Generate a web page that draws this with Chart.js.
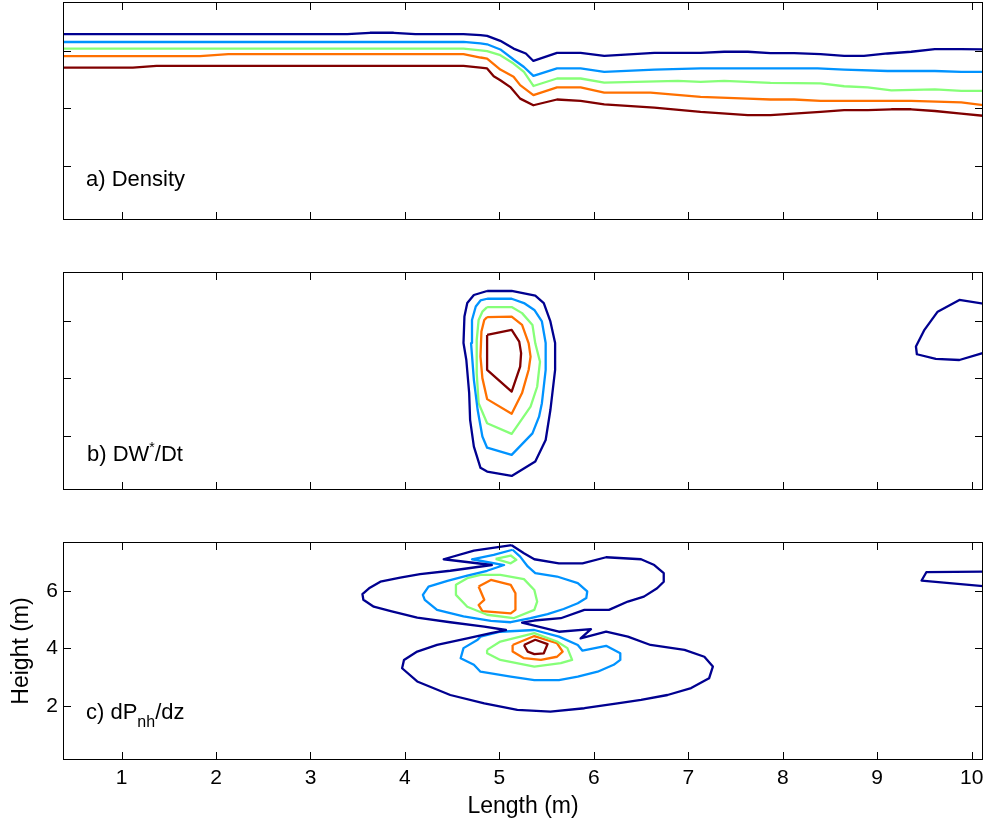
<!DOCTYPE html>
<html>
<head>
<meta charset="utf-8">
<script src="https://cdn.jsdelivr.net/npm/chart.js@4.4.1/dist/chart.umd.min.js"></script>
<style>
  body { margin: 0; background: #fff; }
  #wrap { position: relative; width: 985px; height: 824px; font-family: 'Liberation Sans', Arial, sans-serif; }
  canvas { position: absolute; left: 0; }
  .lab { position: absolute; font-size: 22px; line-height: 22px; white-space: nowrap; color: #000; }
  .sup { font-size: 14px; position: relative; top: -9px; }
  .sub { font-size: 16px; position: relative; top: 8px; }
</style>
</head>
<body>
<div id="wrap">
  <canvas id="chartA" width="985" height="222" style="top:0"></canvas>
  <canvas id="chartB" width="985" height="222" style="top:270px"></canvas>
  <canvas id="chartC" width="985" height="284" style="top:540px"></canvas>
  <div class="lab" style="left:86px;top:168px">a) Density</div>
  <div class="lab" style="left:87px;top:443px">b) DW<span class="sup">*</span>/Dt</div>
  <div class="lab" style="left:86px;top:701px">c) dP<span class="sub">nh</span>/dz</div>
</div>
<script>
// Axis ranges and ticks (metres)
const xRange = [0.38, 10.12];
const yRange = [0.12, 7.7];
const xTicks = [1, 2, 3, 4, 5, 6, 7, 8, 9, 10];
const yTicks = [2, 4, 6];

// Contour level colours (low -> high)
const levelColors = ['#000090', '#0093ff', '#86ff78', '#ff7000', '#800000'];

// a) Density isolines, [length, height]
const densityBlue = [[0.3,6.58],[3.39,6.58],[3.63,6.63],[3.88,6.63],[4.11,6.58],[4.62,6.58],[4.80,6.55],[4.87,6.52],[5.01,6.35],[5.15,6.08],[5.28,5.91],[5.36,5.65],[5.61,5.93],[5.86,5.93],[6.11,5.83],[6.64,5.93],[7.13,5.93],[7.38,5.97],[7.63,5.97],[7.87,5.92],[8.12,5.92],[8.40,5.89],[8.65,5.83],[8.86,5.83],[9.11,5.91],[9.36,5.97],[9.61,6.06],[9.89,6.06],[10.2,6.05]];
const densityCyan = [[0.3,6.31],[4.62,6.31],[4.80,6.26],[4.87,6.23],[5.01,6.05],[5.15,5.70],[5.26,5.44],[5.36,5.13],[5.61,5.39],[5.86,5.39],[6.11,5.27],[6.64,5.35],[7.13,5.39],[7.63,5.39],[8.37,5.39],[8.65,5.35],[9.11,5.30],[9.61,5.30],[9.89,5.27],[10.2,5.27]];
const densityGreen = [[0.3,6.08],[4.62,6.08],[4.80,6.02],[4.87,5.99],[5.01,5.85],[5.15,5.56],[5.26,5.27],[5.36,4.78],[5.61,5.04],[5.86,5.04],[6.11,4.90],[6.89,4.96],[7.13,4.92],[7.38,4.96],[7.87,4.89],[8.40,4.87],[8.65,4.77],[8.90,4.73],[9.15,4.63],[9.61,4.66],[9.89,4.61],[10.2,4.61]];
const densityOrange = [[0.3,5.82],[1.83,5.82],[2.13,5.89],[4.62,5.89],[4.80,5.77],[4.87,5.73],[5.01,5.35],[5.15,5.10],[5.22,4.81],[5.36,4.46],[5.61,4.73],[5.86,4.73],[6.11,4.55],[6.60,4.55],[7.13,4.40],[7.63,4.34],[7.87,4.31],[8.12,4.31],[8.40,4.26],[9.36,4.26],[9.89,4.21],[10.2,4.08]];
const densityRed = [[0.3,5.42],[1.12,5.42],[1.37,5.48],[4.62,5.48],[4.80,5.42],[4.87,5.39],[4.94,5.12],[5.01,4.98],[5.12,4.73],[5.22,4.34],[5.36,4.11],[5.61,4.31],[5.86,4.26],[6.11,4.14],[6.64,4.03],[7.13,3.88],[7.63,3.77],[7.87,3.77],[8.40,3.88],[8.65,3.94],[8.90,3.94],[9.15,3.97],[9.36,3.97],[9.61,3.91],[9.89,3.82],[10.2,3.72]];

// b) DW*/Dt contours
const dwdtBlue = [[4.87,7.04],[5.13,7.04],[5.38,6.88],[5.47,6.62],[5.54,5.98],[5.59,5.23],[5.59,4.30],[5.54,2.90],[5.49,1.86],[5.38,1.11],[5.13,0.61],[4.87,0.76],[4.80,0.89],[4.73,1.63],[4.69,2.56],[4.68,3.50],[4.65,4.64],[4.62,5.23],[4.63,6.15],[4.66,6.62],[4.73,6.90],[4.87,7.04]];
const dwdtBlueRight = [[10.2,6.56],[9.87,6.73],[9.64,6.32],[9.50,5.69],[9.41,5.11],[9.42,4.84],[9.62,4.68],[9.87,4.64],[10.2,4.96]];
const dwdtCyan = [[4.87,6.77],[5.13,6.77],[5.26,6.62],[5.37,6.38],[5.45,5.98],[5.49,5.23],[5.49,4.30],[5.45,3.14],[5.42,2.67],[5.35,2.09],[5.13,1.34],[4.87,1.59],[4.82,1.98],[4.77,2.90],[4.73,3.95],[4.70,5.23],[4.71,6.03],[4.75,6.50],[4.80,6.71],[4.87,6.77]];
const dwdtGreen = [[4.87,6.48],[5.13,6.48],[5.24,6.27],[5.35,5.86],[5.38,5.22],[5.43,4.58],[5.40,3.71],[5.33,3.02],[5.13,2.07],[4.87,2.44],[4.78,3.14],[4.76,4.18],[4.76,5.34],[4.78,6.03],[4.82,6.32],[4.87,6.48]];
const dwdtOrange = [[4.87,6.13],[5.13,6.15],[5.24,5.86],[5.31,5.22],[5.33,4.76],[5.31,4.30],[5.24,3.49],[5.13,2.77],[4.87,3.28],[4.82,4.01],[4.80,4.76],[4.81,5.63],[4.84,6.03],[4.87,6.13]];
const dwdtRed = [[4.87,5.51],[5.13,5.69],[5.21,5.28],[5.23,4.88],[5.22,4.41],[5.13,3.54],[4.87,4.30],[4.87,5.51]];

// c) dPnh/dz contours
const dpdzBlue = [[5.13,7.59],[4.73,7.40],[4.41,7.10],[4.92,6.90],[4.48,6.70],[4.16,6.58],[3.95,6.46],[3.74,6.32],[3.62,6.09],[3.55,5.89],[3.56,5.69],[3.67,5.45],[3.85,5.30],[4.13,5.07],[4.48,4.91],[4.84,4.76],[5.07,4.64],[4.91,4.53],[4.66,4.35],[4.34,4.12],[4.13,3.89],[3.99,3.60],[3.97,3.31],[4.13,2.85],[4.48,2.38],[4.84,2.09],[5.19,1.86],[5.54,1.80],[5.90,1.92],[6.25,2.09],[6.50,2.21],[6.78,2.38],[7.03,2.62],[7.22,2.96],[7.26,3.37],[7.17,3.71],[6.96,3.95],[6.60,4.12],[6.36,4.41],[6.13,4.58],[5.86,4.35],[5.97,4.67],[5.63,4.58],[5.24,4.90],[5.37,4.97],[5.65,5.05],[5.90,5.34],[6.16,5.34],[6.36,5.63],[6.53,5.80],[6.67,6.09],[6.74,6.32],[6.74,6.62],[6.64,6.90],[6.50,7.10],[6.13,7.17],[5.88,6.96],[5.63,6.96],[5.37,7.10],[5.26,7.31],[5.13,7.59]];
const dpdzBlueRight = [[10.2,6.67],[9.52,6.65],[9.47,6.36],[10.2,6.14]];
const dpdzCyanUpper = [[5.14,7.43],[4.94,7.25],[4.71,7.10],[5.05,6.90],[4.87,6.70],[4.66,6.53],[4.45,6.35],[4.25,6.15],[4.19,5.86],[4.21,5.69],[4.34,5.34],[4.62,5.11],[4.91,4.96],[5.12,4.91],[5.33,5.05],[5.51,5.19],[5.68,5.37],[5.83,5.57],[5.92,5.75],[5.93,5.98],[5.83,6.27],[5.61,6.50],[5.38,6.62],[5.30,6.85],[5.22,7.19],[5.14,7.43]];
const dpdzCyanLower = [[4.80,4.41],[5.01,4.58],[5.37,4.64],[5.63,4.41],[5.83,4.12],[5.88,3.92],[6.13,4.09],[6.28,3.83],[6.28,3.60],[6.21,3.43],[6.04,3.19],[5.83,3.02],[5.63,2.90],[5.37,2.90],[5.12,3.02],[4.80,3.19],[4.73,3.43],[4.59,3.66],[4.62,4.01],[4.77,4.30],[4.80,4.41]];
const dpdzGreenUpper = [[4.54,6.21],[4.54,5.86],[4.66,5.45],[4.87,5.17],[5.15,5.05],[5.37,5.34],[5.40,5.63],[5.37,6.03],[5.26,6.41],[5.01,6.56],[4.80,6.56],[4.66,6.44],[4.54,6.21]];
const dpdzGreenTop = [[4.96,7.11],[5.12,7.23],[5.18,7.08],[5.12,6.96],[4.96,7.11]];
const dpdzGreenLower = [[4.87,3.95],[5.01,4.24],[5.37,4.53],[5.61,4.24],[5.72,4.01],[5.77,3.60],[5.65,3.49],[5.37,3.37],[5.01,3.60],[4.87,3.83],[4.87,3.95]];
const dpdzOrangeUpper = [[4.78,6.15],[4.91,6.38],[5.12,6.21],[5.17,5.92],[5.17,5.34],[5.12,5.22],[4.82,5.30],[4.78,5.51],[4.84,5.69],[4.78,6.15]];
const dpdzOrangeLower = [[5.14,4.12],[5.37,4.43],[5.61,4.18],[5.67,3.89],[5.61,3.71],[5.44,3.60],[5.26,3.66],[5.14,3.89],[5.14,4.12]];
const dpdzRedLower = [[5.26,4.12],[5.38,4.30],[5.51,4.15],[5.47,3.83],[5.37,3.80],[5.30,3.89],[5.26,4.12]];

Chart.defaults.font.family = "'Liberation Sans', Arial, sans-serif";
Chart.defaults.color = '#000';

// Helper to turn a point list into a contour dataset
const contour = (points, level) => ({
  data: points.map(([x, y]) => ({ x, y })),
  borderColor: levelColors[level],
  borderWidth: 2.3,
  borderJoinStyle: 'round',
  showLine: true,
  pointRadius: 0,
  fill: false,
  tension: 0
});

// Box around the plot with inward ticks on all four sides
const boxTicks = {
  id: 'boxTicks',
  afterDatasetsDraw(chart) {
    const { ctx, chartArea: { left, right, top, bottom }, scales: { x, y } } = chart;
    const len = 8;
    ctx.save();
    ctx.strokeStyle = '#000';
    ctx.lineWidth = 1;
    ctx.beginPath();
    xTicks.forEach(v => {
      const px = Math.round(x.getPixelForValue(v)) + 0.5;
      ctx.moveTo(px, bottom); ctx.lineTo(px, bottom - len);
      ctx.moveTo(px, top); ctx.lineTo(px, top + len);
    });
    yTicks.forEach(v => {
      const py = Math.round(y.getPixelForValue(v)) + 0.5;
      ctx.moveTo(left, py); ctx.lineTo(left + len, py);
      ctx.moveTo(right, py); ctx.lineTo(right - len, py);
    });
    ctx.stroke();
    ctx.strokeRect(Math.round(left) + 0.5, Math.round(top) + 0.5, Math.round(right - left) - 1, Math.round(bottom - top) - 1);
    ctx.restore();
  }
};

// Options for a panel; only the bottom panel shows labelled axes
const panelOptions = (labelled) => ({
  responsive: false,
  animation: false,
  events: [],
  layout: { padding: labelled ? { left: 0, right: 2, top: 2, bottom: 0 } : { left: 63, right: 2, top: 2, bottom: 2 } },
  plugins: { legend: { display: false }, tooltip: { enabled: false } },
  scales: {
    x: {
      type: 'linear',
      min: xRange[0],
      max: xRange[1],
      display: labelled,
      grid: { display: false, drawTicks: false },
      border: { display: false },
      afterBuildTicks: scale => { scale.ticks = xTicks.map(v => ({ value: v })); },
      afterFit: scale => {
        if (!labelled) return;
        scale.height = 64;
        scale.paddingLeft = 0;
        scale.paddingRight = 0;
      },
      ticks: { font: { size: 21 }, padding: 6, maxRotation: 0, callback: v => v },
      title: { display: true, text: 'Length (m)', font: { size: 23 }, padding: { top: 0, bottom: 4 } }
    },
    y: {
      type: 'linear',
      min: yRange[0],
      max: yRange[1],
      display: labelled,
      grid: { display: false, drawTicks: false },
      border: { display: false },
      afterBuildTicks: scale => { scale.ticks = yTicks.map(v => ({ value: v })); },
      afterFit: scale => {
        if (!labelled) return;
        scale.width = 63;
        scale.paddingTop = 0;
        scale.paddingBottom = 0;
      },
      ticks: { font: { size: 21 }, padding: 5, callback: v => v },
      title: { display: true, text: 'Height (m)', font: { size: 23 }, padding: { top: 8, bottom: 0 } }
    }
  }
});

new Chart(document.getElementById('chartA'), {
  type: 'scatter',
  data: { datasets: [
    contour(densityBlue, 0), contour(densityCyan, 1), contour(densityGreen, 2),
    contour(densityOrange, 3), contour(densityRed, 4)
  ] },
  options: panelOptions(false),
  plugins: [boxTicks]
});

new Chart(document.getElementById('chartB'), {
  type: 'scatter',
  data: { datasets: [
    contour(dwdtBlue, 0), contour(dwdtBlueRight, 0), contour(dwdtCyan, 1),
    contour(dwdtGreen, 2), contour(dwdtOrange, 3), contour(dwdtRed, 4)
  ] },
  options: panelOptions(false),
  plugins: [boxTicks]
});

new Chart(document.getElementById('chartC'), {
  type: 'scatter',
  data: { datasets: [
    contour(dpdzBlue, 0), contour(dpdzBlueRight, 0),
    contour(dpdzCyanUpper, 1), contour(dpdzCyanLower, 1),
    contour(dpdzGreenUpper, 2), contour(dpdzGreenTop, 2), contour(dpdzGreenLower, 2),
    contour(dpdzOrangeUpper, 3), contour(dpdzOrangeLower, 3),
    contour(dpdzRedLower, 4)
  ] },
  options: panelOptions(true),
  plugins: [boxTicks]
});
</script>
</body>
</html>
